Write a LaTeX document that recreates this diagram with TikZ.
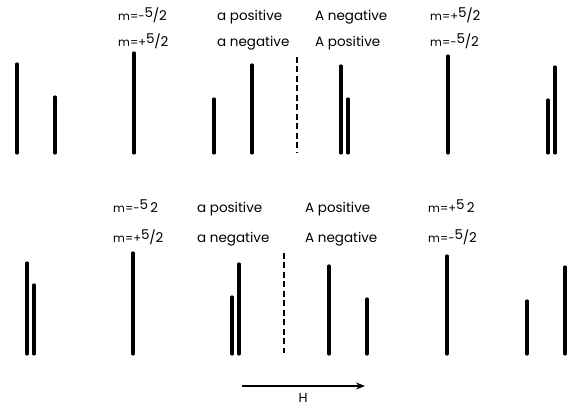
\documentclass[tikz,border=0pt]{standalone}
\usepackage{fontspec}
\setmainfont{Poppins}
\usetikzlibrary{positioning, arrows.meta}

\newcommand{\mval}[1]{{\fontsize{11.5}{13}\selectfont m=#1}\raisebox{3.5pt}{5}\kern-0.3pt/\kern-0.3pt2}
\newcommand{\mbroken}[1]{{\fontsize{11.5}{13}\selectfont m=#1}\raisebox{3.5pt}{5}\,2}

\begin{document}
\begin{tikzpicture}[x=1pt, y=-1pt,
  spec/.style={line width=3.2pt, line cap=round},
  split/.style={line width=2.4pt, dash pattern=on 6pt off 3.5pt},
  lbl/.style={anchor=base west, inner sep=0pt, font=\fontsize{13.5}{15}\selectfont}]
\useasboundingbox (0,0) rectangle (571,406);

% upper pattern
\foreach \x/\t in {17/64, 55/97, 134/53, 214/99, 252/65, 341/66, 348/99, 448/56, 548/100, 555/67}
  \draw[spec] (\x,\t) -- (\x,153);
\draw[split] (297,57) -- (297,153);

\node[lbl] (mtopa) at (118,21) {\mval{-}};
\node[lbl] (mtopb) at (118,47) {\mval{+}};
\node[lbl] (atopa) at (217,21) {a positive};
\node[lbl] (atopb) at (217,47) {a negative};
\node[lbl] (Atopa) at (315,21) {A negative};
\node[lbl] (Atopb) at (315,47) {A positive};
\node[lbl] (ntopa) at (430,21) {\mval{+}};
\node[lbl] (ntopb) at (430,47) {\mval{-}};

% lower pattern
\foreach \x/\t in {27/263, 34/285, 133/253, 232/297, 239/264, 329/266, 367/299, 447/256, 527/301, 565/267}
  \draw[spec] (\x,\t) -- (\x,354);
\draw[split] (284,253) -- (284,353);

\node[lbl] (mbota) at (113,213) {\mbroken{-}};
\node[lbl] (mbotb) at (113,243) {\mval{+}};
\node[lbl] (abota) at (197,213) {a positive};
\node[lbl] (abotb) at (197,243) {a negative};
\node[lbl] (Abota) at (305,213) {A positive};
\node[lbl] (Abotb) at (305,243) {A negative};
\node[lbl] (nbota) at (428,213) {\mbroken{+}};
\node[lbl] (nbotb) at (428,243) {\mval{-}};

% field
\coordinate (hstart) at (242,386);
\coordinate (hend) at (365,386);
\draw[-{Stealth[length=9pt, width=7pt]}, line width=1.6pt] (hstart) -- (hend);
\node[font=\fontsize{13}{15}\selectfont, inner sep=0pt] (hlabel) at (303,397.5) {H};

\end{tikzpicture}
\end{document}
